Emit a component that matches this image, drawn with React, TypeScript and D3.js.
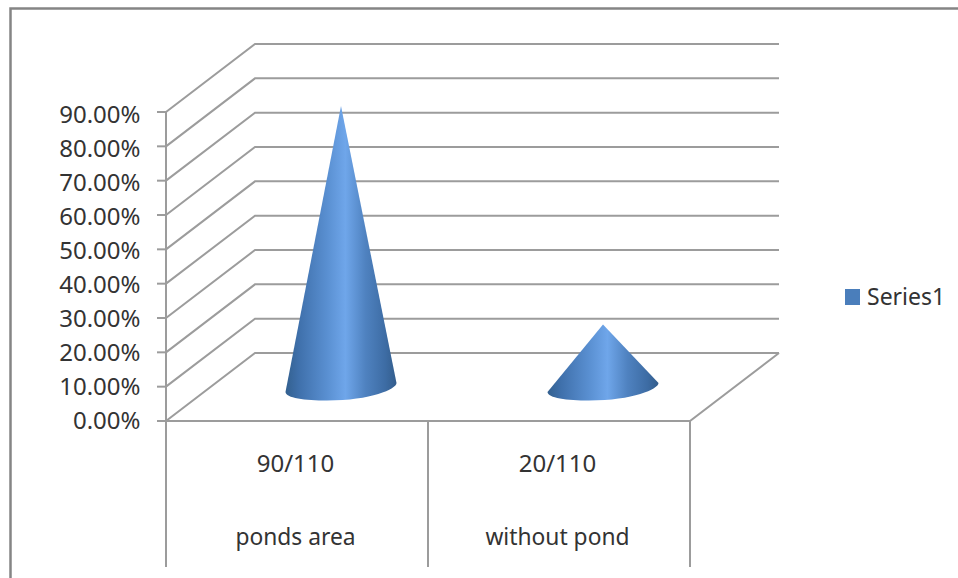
import React from "react";
import * as d3 from "d3";

const WIDTH = 958;
const HEIGHT = 578;

const tickValues = [0, 0.1, 0.2, 0.3, 0.4, 0.5, 0.6, 0.7, 0.8, 0.9];
const categories = ["ponds area", "without pond"];
const subCategories = ["90/110", "20/110"];
const seriesValues = [90 / 110, 20 / 110];
const seriesName = "Series1";

const FONT = "'Noto Sans', sans-serif";
const GRID = "#9c9c9c";
const TEXT = "#333333";

// Floor geometry of the 3D plot: front edge and the depth offset to the back wall.
const frontLeft = 166;
const frontRight = 690;
const depthX = 89;
const depthY = 68;
const baseY = 421;
const topY = 112;
const axisBottom = 567;

const y = d3.scaleLinear().domain([0, 0.9]).range([baseY, topY]);
const labelY = d3.scaleLinear().domain([0, 0.9]).range([429, 122.5]);
const x = d3.scaleBand<string>().domain(categories).range([frontLeft, frontRight]);
const line = d3.line<[number, number]>();

// Cone silhouette: straight sides down to a tilted elliptical base arc.
function conePath(value: number, index: number) {
  const cx = x(categories[index])! + x.bandwidth() / 2 + depthX / 2 - 0.5;
  const apexY = y(value) - depthY / 2;
  const midY = y(0) - depthY / 2;
  const halfW = 55.5;
  const bottom =
    `C ${cx + halfW} ${midY + 2} ${cx + 30} ${midY + 13.5} ${cx - 14} ${midY + 13.5} ` +
    `C ${cx - 36} ${midY + 13.5} ${cx - halfW} ${midY + 11} ${cx - halfW} ${midY + 5}`;
  return `M ${cx} ${apexY} L ${cx + halfW} ${midY - 4} ${bottom} Z`;
}

export default function App() {
  return (
    <svg
      width={WIDTH}
      height={HEIGHT}
      viewBox={`0 0 ${WIDTH} ${HEIGHT}`}
      style={{ position: "absolute", left: 0, top: 0, background: "#fff" }}
    >
      <defs>
        <linearGradient id="coneFill" x1="0" x2="1" y1="0" y2="0">
          <stop offset="0" stopColor="#33608f" />
          <stop offset="0.12" stopColor="#3f70ab" />
          <stop offset="0.38" stopColor="#5a90d2" />
          <stop offset="0.54" stopColor="#6fa6ea" />
          <stop offset="0.72" stopColor="#4f82c0" />
          <stop offset="0.9" stopColor="#3d6ca4" />
          <stop offset="1" stopColor="#335d8c" />
        </linearGradient>
      </defs>

      {/* Outer chart frame */}
      <path d={`M 10.5 ${HEIGHT} V 8.5 H ${WIDTH}`} fill="none" stroke="#858585" strokeWidth={2.5} />

      {/* Gridlines running up the side wall and across the back wall */}
      {tickValues.map((t) => (
        <path
          key={t}
          d={line([
            [frontLeft, y(t)],
            [frontLeft + depthX, y(t) - depthY],
            [frontRight + depthX, y(t) - depthY],
          ])!}
          fill="none"
          stroke={GRID}
          strokeWidth={2}
        />
      ))}

      {/* Floor edges and category dividers */}
      <path
        d={line([
          [frontLeft, y(0)],
          [frontRight, y(0)],
          [frontRight + depthX, y(0) - depthY],
        ])!}
        fill="none"
        stroke={GRID}
        strokeWidth={2}
      />
      <line x1={frontLeft} x2={frontLeft} y1={y(0.9)} y2={axisBottom} stroke={GRID} strokeWidth={2} />
      {categories.map((c) => (
        <line
          key={c}
          x1={x(c)! + x.bandwidth()}
          x2={x(c)! + x.bandwidth()}
          y1={y(0)}
          y2={axisBottom}
          stroke={GRID}
          strokeWidth={2}
        />
      ))}

      {/* Value axis ticks and labels */}
      {tickValues.map((t) => (
        <g key={t}>
          <line x1={frontLeft - 9} x2={frontLeft} y1={y(t)} y2={y(t)} stroke={GRID} strokeWidth={2} />
          <text x={140.5} y={labelY(t)} textAnchor="end" fontFamily={FONT} fontSize={24} fill={TEXT}>
            {d3.format(".2%")(t)}
          </text>
        </g>
      ))}

      {/* Cones */}
      {seriesValues.map((v, i) => (
        <path key={i} d={conePath(v, i)} fill="url(#coneFill)" />
      ))}

      {/* Category labels */}
      {categories.map((c, i) => (
        <g key={c} textAnchor="middle" fontFamily={FONT} fill={TEXT}>
          <text x={x(c)! + x.bandwidth() / 2 - 1.5} y={472} fontSize={24}>{subCategories[i]}</text>
          <text x={x(c)! + x.bandwidth() / 2 - 1.5} y={545} fontSize={22.8}>{c}</text>
        </g>
      ))}

      {/* Legend */}
      <rect x={845} y={289} width={15} height={16} fill="#4a7ebb" />
      <text x={867} y={305} fontFamily={FONT} fontSize={23} fill={TEXT}>{seriesName}</text>
    </svg>
  );
}
